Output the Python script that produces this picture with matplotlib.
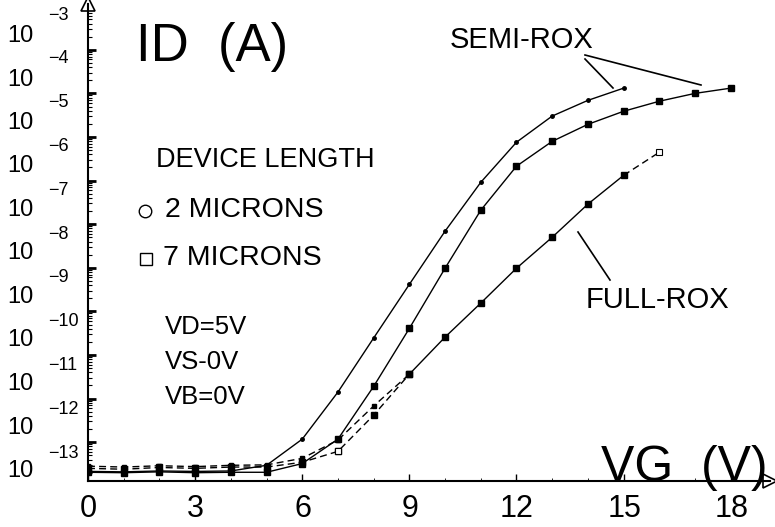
import numpy as np
import matplotlib.pyplot as plt
from matplotlib.lines import Line2D

plt.rcParams['font.family'] = ['Liberation Sans', 'DejaVu Sans']

# valores: log10(ID) frente a VG
vg_semi_2 = [0, 1, 2, 3, 4, 5, 6, 7, 8, 9, 10, 11, 12, 13, 14, 15]
semi_2 = [-13.67, -13.68, -13.66, -13.67, -13.66, -13.53, -12.93, -11.85,
          -10.61, -9.38, -8.16, -7.04, -6.12, -5.52, -5.16, -4.88]

vg_semi_7 = [0, 1, 2, 3, 4, 5, 6, 7, 8, 9, 10, 11, 12, 13, 14, 15, 16, 17, 18]
semi_7 = [-13.69, -13.70, -13.68, -13.70, -13.69, -13.69, -13.49, -12.93,
          -11.72, -10.39, -9.01, -7.68, -6.67, -6.10, -5.71, -5.41, -5.18,
          -5.00, -4.88]

vg_full_7 = [0, 1, 2, 3, 4, 5, 6, 7, 8, 9, 10, 11, 12, 13, 14, 15, 16]
full_7 = [-13.60, -13.62, -13.58, -13.60, -13.57, -13.57, -13.46, -13.21,
          -12.38, -11.44, -10.59, -9.81, -9.01, -8.30, -7.54, -6.88, -6.35]

vg_full_2 = [0, 1, 2, 3, 4, 5, 6, 7, 8, 9]
full_2 = [-13.55, -13.57, -13.54, -13.56, -13.53, -13.52, -13.37, -12.95,
          -12.17, -11.44]

decadas = [-3, -4, -5, -6, -7, -8, -9, -10, -11, -12, -13]
xticks = [0, 3, 6, 9, 12, 15, 18]

W, H = 775, 527
fig = plt.figure(figsize=(W / 100, H / 100), dpi=100)
ax = fig.add_axes([88 / W, 46 / H, 682 / W, 477 / H])
ax.set_xlim(0, 19.1)
ax.set_ylim(-13.89, -2.95)

lw = 1.0
k = 'black'
# SEMI-ROX
ax.plot(vg_semi_2, semi_2, '-', color=k, lw=lw, marker='o', ms=2.5)
ax.plot(vg_semi_7, semi_7, '-', color=k, lw=lw, marker='s', ms=4)
# FULL-ROX
ax.plot(vg_full_7[:10], full_7[:10], '--', color=k, lw=lw, marker='s', ms=4, dashes=(5, 3))
ax.plot(vg_full_7[9:16], full_7[9:16], '-', color=k, lw=lw, marker='s', ms=4)
ax.plot(vg_full_7[15:], full_7[15:], '--', color=k, lw=lw, dashes=(5, 3))
ax.plot([vg_full_7[7], vg_full_7[16]], [full_7[7], full_7[16]], 's', color=k,
        mfc='white', ms=4, mew=0.8, zorder=5)
ax.plot(vg_full_2, full_2, '--', color=k, lw=lw, marker='s', ms=3, dashes=(5, 3))

# ejes con flechas
for s in ['top', 'right']:
    ax.spines[s].set_visible(False)
ax.spines['left'].set_linewidth(1.5)
ax.spines['bottom'].set_linewidth(1.5)
ax.plot(0, 1, marker='^', ms=10, mfc='white', mec=k, mew=1.2,
        transform=ax.transAxes, clip_on=False)
ax.plot(1, 0, marker='>', ms=10, mfc='white', mec=k, mew=1.2,
        transform=ax.transAxes, clip_on=False)

# marcas del eje y (decadas y menores)
ax.set_yticks(decadas[1:])
menores = [d + np.log10(m) for d in range(-14, -3) for m in range(2, 10)]
ax.set_yticks([m for m in menores if -13.89 < m < -3.1], minor=True)
ax.tick_params(axis='y', which='major', direction='in', length=6, width=2, labelleft=False)
ax.tick_params(axis='y', which='minor', direction='in', length=3, width=0.8)
ax.set_xticks(xticks)
ax.set_xticks(range(0, 19), minor=True)
ax.tick_params(axis='x', which='major', direction='in', length=5, width=1, labelbottom=False)
ax.tick_params(axis='x', which='minor', direction='in', length=2, width=0.6)


def ftext(x, y, s, **kw):
    fig.text(x / W, 1 - y / H, s, **kw)


# etiquetas del eje y
for i, d in enumerate(decadas):
    ftext(20, 36 + 43.5 * i, '10', fontsize=17, ha='center', va='center')
    ftext(48, 15 + 43.8 * i, '\u2212' + str(-d), fontsize=13, ha='left', va='center')
# etiquetas del eje x
for t in xticks:
    ftext(88 + t * 35.75, 509, str(t), fontsize=22, ha='center', va='center')

ftext(212, 47, 'ID  (A)', fontsize=38, ha='center', va='center')
ftext(684, 468, 'VG  (V)', fontsize=36, ha='center', va='center')
ftext(522, 40, 'SEMI-ROX', fontsize=21, ha='center', va='center')
ftext(657, 300, 'FULL-ROX', fontsize=21, ha='center', va='center')
ftext(265, 160, 'DEVICE LENGTH', fontsize=19.5, ha='center', va='center')
ftext(165, 210, '2 MICRONS', fontsize=20.5, ha='left', va='center')
ftext(163, 258, '7 MICRONS', fontsize=20.5, ha='left', va='center')
ftext(165, 327, 'VD=5V', fontsize=18.5, ha='left', va='center')
ftext(165, 362, 'VS-0V', fontsize=18.5, ha='left', va='center')
ftext(165, 397, 'VB=0V', fontsize=18.5, ha='left', va='center')

# simbolos de la leyenda
fig.add_artist(Line2D([145 / W], [1 - 211 / H], marker='o', ms=9, mfc='white', mec=k, mew=1))
fig.add_artist(Line2D([146 / W], [1 - 259 / H], marker='s', ms=9, mfc='white', mec=k, mew=1))

# lineas de referencia de los textos
for (x0, y0), (x1, y1) in [((585, 59), (613, 88)), ((585, 55), (701, 85)),
                           ((578, 232), (610, 280))]:
    fig.add_artist(Line2D([x0 / W, x1 / W], [1 - y0 / H, 1 - y1 / H], color=k, lw=1.2))

fig.savefig('out.png', dpi=100)
